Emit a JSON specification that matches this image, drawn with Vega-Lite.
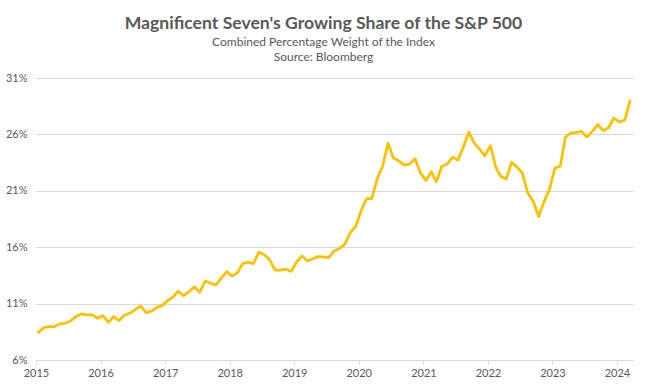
{
  "$schema": "https://vega.github.io/schema/vega-lite/v6.json",
  "width": 597,
  "height": 282,
  "autosize": {"type": "none"},
  "padding": {"left": 36, "top": 78, "right": 14, "bottom": 28},
  "background": "white",
  "title": {
    "text": "Magnificent Seven's Growing Share of the S&P 500",
    "subtitle": ["Combined Percentage Weight of the Index", "Source: Bloomberg"],
    "anchor": "middle",
    "frame": "group",
    "dx": -11,
    "font": "Lato",
    "fontSize": 17.6,
    "fontWeight": "bold",
    "color": "#595959",
    "subtitleFont": "Lato",
    "subtitleFontSize": 12,
    "subtitleColor": "#595959",
    "subtitlePadding": 4,
    "subtitleLineHeight": 15,
    "offset": 9
  },
  "config": {
    "view": {"stroke": null},
    "axis": {"labelFont": "Lato", "labelFontSize": 11, "labelColor": "#595959"}
  },
  "data": {
    "values": [
      {"date": "2015-01-15", "weight": 8.46},
      {"date": "2015-02-15", "weight": 8.87},
      {"date": "2015-03-15", "weight": 8.96},
      {"date": "2015-04-15", "weight": 8.96},
      {"date": "2015-05-15", "weight": 9.2},
      {"date": "2015-06-15", "weight": 9.25},
      {"date": "2015-07-15", "weight": 9.46},
      {"date": "2015-08-15", "weight": 9.85},
      {"date": "2015-09-15", "weight": 10.08},
      {"date": "2015-10-15", "weight": 10.0},
      {"date": "2015-11-15", "weight": 10.0},
      {"date": "2015-12-15", "weight": 9.7},
      {"date": "2016-01-15", "weight": 9.93},
      {"date": "2016-02-15", "weight": 9.34},
      {"date": "2016-03-15", "weight": 9.85},
      {"date": "2016-04-15", "weight": 9.5},
      {"date": "2016-05-15", "weight": 9.96},
      {"date": "2016-06-15", "weight": 10.14},
      {"date": "2016-07-15", "weight": 10.47},
      {"date": "2016-08-15", "weight": 10.8},
      {"date": "2016-09-15", "weight": 10.2},
      {"date": "2016-10-15", "weight": 10.32},
      {"date": "2016-11-15", "weight": 10.67},
      {"date": "2016-12-15", "weight": 10.82},
      {"date": "2017-01-15", "weight": 11.27},
      {"date": "2017-02-15", "weight": 11.6},
      {"date": "2017-03-15", "weight": 12.1},
      {"date": "2017-04-15", "weight": 11.7},
      {"date": "2017-05-15", "weight": 12.04},
      {"date": "2017-06-15", "weight": 12.5},
      {"date": "2017-07-15", "weight": 12.0},
      {"date": "2017-08-15", "weight": 13.0},
      {"date": "2017-09-15", "weight": 12.8},
      {"date": "2017-10-15", "weight": 12.65},
      {"date": "2017-11-15", "weight": 13.25},
      {"date": "2017-12-15", "weight": 13.84},
      {"date": "2018-01-15", "weight": 13.43},
      {"date": "2018-02-15", "weight": 13.75},
      {"date": "2018-03-15", "weight": 14.55},
      {"date": "2018-04-15", "weight": 14.67},
      {"date": "2018-05-15", "weight": 14.55},
      {"date": "2018-06-15", "weight": 15.56},
      {"date": "2018-07-15", "weight": 15.35},
      {"date": "2018-08-15", "weight": 14.88},
      {"date": "2018-09-15", "weight": 13.96},
      {"date": "2018-10-15", "weight": 13.96},
      {"date": "2018-11-15", "weight": 14.05},
      {"date": "2018-12-15", "weight": 13.87},
      {"date": "2019-01-15", "weight": 14.7},
      {"date": "2019-02-15", "weight": 15.23},
      {"date": "2019-03-15", "weight": 14.79},
      {"date": "2019-04-15", "weight": 14.96},
      {"date": "2019-05-15", "weight": 15.17},
      {"date": "2019-06-15", "weight": 15.14},
      {"date": "2019-07-15", "weight": 15.08},
      {"date": "2019-08-15", "weight": 15.67},
      {"date": "2019-09-15", "weight": 15.88},
      {"date": "2019-10-15", "weight": 16.27},
      {"date": "2019-11-15", "weight": 17.33},
      {"date": "2019-12-15", "weight": 17.83},
      {"date": "2020-01-15", "weight": 19.25},
      {"date": "2020-02-15", "weight": 20.3},
      {"date": "2020-03-15", "weight": 20.3},
      {"date": "2020-04-15", "weight": 22.07},
      {"date": "2020-05-15", "weight": 23.16},
      {"date": "2020-06-15", "weight": 25.23},
      {"date": "2020-07-15", "weight": 23.9},
      {"date": "2020-08-15", "weight": 23.66},
      {"date": "2020-09-15", "weight": 23.28},
      {"date": "2020-10-15", "weight": 23.37},
      {"date": "2020-11-15", "weight": 23.84},
      {"date": "2020-12-15", "weight": 22.6},
      {"date": "2021-01-15", "weight": 21.92},
      {"date": "2021-02-15", "weight": 22.69},
      {"date": "2021-03-15", "weight": 21.8},
      {"date": "2021-04-15", "weight": 23.16},
      {"date": "2021-05-15", "weight": 23.37},
      {"date": "2021-06-15", "weight": 23.99},
      {"date": "2021-07-15", "weight": 23.72},
      {"date": "2021-08-15", "weight": 24.88},
      {"date": "2021-09-15", "weight": 26.2},
      {"date": "2021-10-15", "weight": 25.23},
      {"date": "2021-11-15", "weight": 24.7},
      {"date": "2021-12-15", "weight": 24.1},
      {"date": "2022-01-15", "weight": 25.0},
      {"date": "2022-02-15", "weight": 23.07},
      {"date": "2022-03-15", "weight": 22.27},
      {"date": "2022-04-15", "weight": 22.04},
      {"date": "2022-05-15", "weight": 23.54},
      {"date": "2022-06-15", "weight": 23.1},
      {"date": "2022-07-15", "weight": 22.57},
      {"date": "2022-08-15", "weight": 20.8},
      {"date": "2022-09-15", "weight": 20.05},
      {"date": "2022-10-15", "weight": 18.72},
      {"date": "2022-11-15", "weight": 20.05},
      {"date": "2022-12-15", "weight": 21.1},
      {"date": "2023-01-15", "weight": 23.0},
      {"date": "2023-02-15", "weight": 23.2},
      {"date": "2023-03-15", "weight": 25.73},
      {"date": "2023-04-15", "weight": 26.12},
      {"date": "2023-05-15", "weight": 26.18},
      {"date": "2023-06-15", "weight": 26.27},
      {"date": "2023-07-15", "weight": 25.76},
      {"date": "2023-08-15", "weight": 26.27},
      {"date": "2023-09-15", "weight": 26.86},
      {"date": "2023-10-15", "weight": 26.35},
      {"date": "2023-11-15", "weight": 26.59},
      {"date": "2023-12-15", "weight": 27.45},
      {"date": "2024-01-15", "weight": 27.1},
      {"date": "2024-02-15", "weight": 27.27},
      {"date": "2024-03-15", "weight": 28.99}
    ]
  },
  "mark": {"type": "line", "color": "#FFC000", "strokeWidth": 2.75, "strokeJoin": "round", "strokeCap": "round"},
  "encoding": {
    "x": {
      "field": "date",
      "type": "temporal",
      "scale": {
        "type": "utc",
        "domain": [
          {"year": 2015, "month": 1, "date": 1, "utc": true},
          {"year": 2024, "month": 4, "date": 1, "utc": true}
        ]
      },
      "axis": {
        "title": null,
        "format": "%Y",
        "tickCount": "year",
        "grid": false,
        "domainColor": "#d9d9d9",
        "tickColor": "#d9d9d9",
        "tickSize": 4,
        "labelPadding": 3,
        "labelFlush": false,
        "labelOverlap": false
      }
    },
    "y": {
      "field": "weight",
      "type": "quantitative",
      "scale": {"domain": [6, 31], "nice": false, "zero": false},
      "axis": {
        "title": null,
        "values": [6, 11, 16, 21, 26, 31],
        "labelExpr": "datum.value + '%'",
        "domain": false,
        "ticks": false,
        "labelPadding": 9,
        "gridColor": "#d9d9d9",
        "gridWidth": 1
      }
    }
  }
}
